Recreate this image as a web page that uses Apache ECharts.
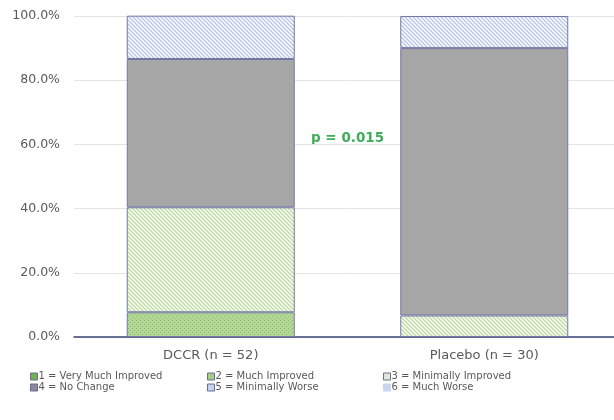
<!DOCTYPE html>
<html><head><meta charset="utf-8">
<script src="https://cdn.jsdelivr.net/npm/echarts@6/dist/echarts.min.js"></script>
<style>html,body{margin:0;padding:0;background:#fff}#c{width:614px;height:420px}</style>
</head><body><div id="c"></div>
<script>
var categories = ['DCCR (n = 52)', 'Placebo (n = 30)'];
var seriesNames = ['1 = Very Much Improved', '2 = Much Improved', '3 = Minimally Improved', '4 = No Change', '5 = Minimally Worse', '6 = Much Worse'];
var veryMuchImproved = [7.7, null];
var muchImproved = [32.7, 6.7];
var minimallyImproved = [null, null];
var noChange = [46.2, 83.3];
var minimallyWorse = [13.5, 10.0];
var muchWorse = [null, null];
var yTicks = [0, 20, 40, 60, 80, 100];
var pValueText = 'p = 0.015';

function hatch(fg, bg) {
  var s = 4;
  var c = document.createElement('canvas'); c.width = s; c.height = s;
  var g = c.getContext('2d');
  g.fillStyle = bg; g.fillRect(0, 0, s, s);
  g.strokeStyle = fg; g.lineWidth = 1.3;
  g.beginPath();
  g.moveTo(-1, -1); g.lineTo(s + 1, s + 1);
  g.moveTo(-1 - s, -1); g.lineTo(1, s + 1);
  g.moveTo(s - 1, -1); g.lineTo(2 * s + 1, s + 1);
  g.stroke();
  return { image: c, repeat: 'repeat' };
}
function dots(fg, bg) {
  var c = document.createElement('canvas'); c.width = 4; c.height = 4;
  var g = c.getContext('2d');
  g.fillStyle = bg; g.fillRect(0, 0, 4, 4);
  g.fillStyle = fg; g.fillRect(0, 0, 1, 1); g.fillRect(2, 2, 1, 1);
  return { image: c, repeat: 'repeat' };
}
var fills = [
  dots('#86b960', '#b3d897'),
  hatch('#b8db9c', '#ffffff'),
  hatch('#d0dcea', '#ffffff'),
  '#a6a6a6',
  hatch('#b3c4e8', '#ffffff'),
  '#b4c7e7'
];
var legendFills = ['#72b04c', '#a3cc86', '#dfe7d6', '#8a8a99', '#c5d2ee', '#c9d6ef'];
var values = [veryMuchImproved, muchImproved, minimallyImproved, noChange, minimallyWorse, muchWorse];

var chart = echarts.init(document.getElementById('c'));
var series = seriesNames.map(function (n, i) {
  return {
    name: n, type: 'bar', stack: 'all', barWidth: 168,
    data: values[i],
    itemStyle: { color: fills[i], borderColor: '#7477a3', borderWidth: 1 },
    emphasis: { disabled: true }
  };
});
function legend(idx, left) {
  return {
    data: idx.map(function (i) {
      return { name: seriesNames[i], itemStyle: { color: legendFills[i], borderColor: i === 5 ? legendFills[i] : '#6a6d95', borderWidth: 1 } };
    }),
    orient: 'vertical', left: left, top: 371, itemGap: 0, padding: 0,
    itemWidth: 7, itemHeight: 7, icon: 'rect',
    textStyle: { fontFamily: 'DejaVu Sans', fontSize: 10, lineHeight: 11, color: '#595959', padding: [0, 0, 0, -4] }
  };
}
chart.setOption({
  animation: false,
  textStyle: { fontFamily: 'DejaVu Sans' },
  grid: { left: 74, right: -7, top: 16, bottom: 83, containLabel: false, outerBoundsMode: 'none' },
  xAxis: {
    type: 'category', data: categories,
    axisLine: { lineStyle: { color: '#3a4478', width: 1.5 } },
    axisTick: { show: false },
    axisLabel: { color: '#595959', fontSize: 13, margin: 12, fontFamily: 'DejaVu Sans' }
  },
  yAxis: {
    type: 'value', min: yTicks[0], max: yTicks[yTicks.length - 1], interval: 20,
    axisLine: { show: false }, axisTick: { show: false },
    splitLine: { lineStyle: { color: '#e3e3e3' } },
    axisLabel: { formatter: function (v) { return v.toFixed(1) + '%'; }, color: '#595959', fontSize: 12.5, margin: 14, fontFamily: 'DejaVu Sans' }
  },
  legend: [
    legend([0, 3], 30),
    legend([1, 4], 207),
    legend([2, 5], 383)
  ],
  graphic: [{
    type: 'text', left: 311, top: 131,
    style: { text: pValueText, fill: '#3fae5a', font: 'bold 13.5px DejaVu Sans' }
  }],
  series: series
});
</script></body></html>
